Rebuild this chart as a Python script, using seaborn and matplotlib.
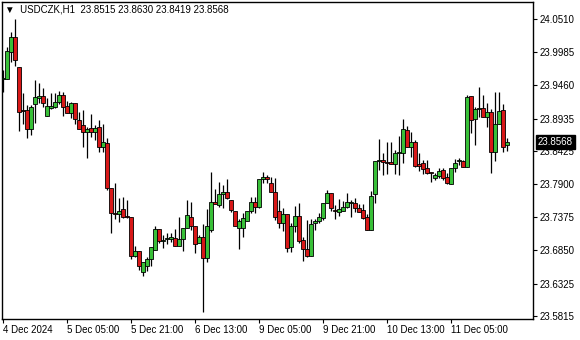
import numpy as np
import matplotlib
matplotlib.use("Agg")
import matplotlib.pyplot as plt
import matplotlib.transforms as mtransforms
import seaborn as sns

# ---- data (USDCZK H1 candles) ----
opens = [23.9561, 23.9561, 23.9988, 24.0225, 23.9751, 23.9071, 23.9071, 23.8771, 23.9166, 23.9261,
         23.9292, 23.8976, 23.9103, 23.9118, 23.9197, 23.9308, 23.9134, 23.9024, 23.9182, 23.8913,
         23.8834, 23.8723, 23.8787, 23.8723, 23.8802, 23.8486, 23.8549, 23.7838, 23.7443, 23.7427,
         23.7506, 23.7395, 23.7380, 23.6763, 23.6842, 23.6510, 23.6604, 23.6715, 23.6858, 23.7190,
         23.7000, 23.7032, 23.7032, 23.7047, 23.6921, 23.7032, 23.7205, 23.7380, 23.7237, 23.6968,
         23.7063, 23.6731, 23.7174, 23.7616, 23.7569, 23.7743, 23.7775, 23.7648, 23.7474, 23.7205,
         23.7205, 23.7316, 23.7474, 23.7616, 23.7537, 23.7980, 23.8012, 23.7917, 23.7775, 23.7474,
         23.7284, 23.7427, 23.6905, 23.7237, 23.7395, 23.7016, 23.6873, 23.6763, 23.7284, 23.7316,
         23.7364, 23.7601, 23.7759, 23.7490, 23.7458, 23.7474, 23.7537, 23.7601, 23.7601, 23.7522,
         23.7490, 23.7380, 23.7174, 23.7743, 23.8265, 23.8280, 23.8249, 23.8249, 23.8217, 23.8391,
         23.8391, 23.8755, 23.8486, 23.8565, 23.8217, 23.8233, 23.8154, 23.8091, 23.7996, 23.8028,
         23.8122, 23.8012, 23.7901, 23.8154, 23.8265, 23.8265, 23.8170, 23.9292, 23.8929, 23.9087,
         23.9103, 23.8960, 23.9039, 23.8407, 23.8850, 23.9071, 23.8515]
highs = [23.9703, 24.0067, 24.0304, 24.0510, 23.9751, 23.9340, 23.9150, 23.9150, 23.9545, 23.9498,
         23.9419, 23.9261, 23.9340, 23.9340, 23.9371, 23.9356, 23.9213, 23.9197, 23.9182, 23.9039,
         23.9071, 23.8802, 23.9008, 23.8834, 23.8913, 23.8850, 23.8628, 23.7838, 23.7917, 23.7680,
         23.7695, 23.7648, 23.7380, 23.6921, 23.6842, 23.6668, 23.6747, 23.6905, 23.7237, 23.7190,
         23.7095, 23.7126, 23.7126, 23.7190, 23.7380, 23.7205, 23.7648, 23.7616, 23.7237, 23.7095,
         23.7269, 23.7506, 23.8091, 23.7822, 23.7933, 23.7885, 23.7980, 23.7648, 23.7474, 23.7348,
         23.7443, 23.7474, 23.7695, 23.7695, 23.7980, 23.8091, 23.8043, 23.8012, 23.7996, 23.7648,
         23.7522, 23.7427, 23.7284, 23.7553, 23.7601, 23.7063, 23.7332, 23.7348, 23.7348, 23.7443,
         23.7601, 23.7806, 23.7759, 23.7569, 23.7664, 23.7632, 23.7759, 23.7648, 23.7680, 23.7585,
         23.7585, 23.7427, 23.7790, 23.8265, 23.8612, 23.8391, 23.8565, 23.8565, 23.8439, 23.8660,
         23.8929, 23.8818, 23.8723, 23.8597, 23.8391, 23.8280, 23.8280, 23.8091, 23.8075, 23.8154,
         23.8154, 23.8075, 23.8154, 23.8296, 23.8312, 23.8280, 23.9308, 23.9292, 23.9118, 23.9435,
         23.9308, 23.9182, 23.9087, 23.9356, 23.9356, 23.9166, 23.8630]
lows = [23.9356, 23.9561, 23.9830, 23.9767, 23.8739, 23.8850, 23.8628, 23.8676, 23.8865, 23.9182,
        23.9118, 23.8976, 23.9087, 23.9103, 23.9166, 23.8976, 23.9024, 23.8944, 23.8850, 23.8771,
        23.8486, 23.8312, 23.8644, 23.8597, 23.8407, 23.8407, 23.7806, 23.7126, 23.7348, 23.7300,
        23.7364, 23.7364, 23.6715, 23.6747, 23.6541, 23.6447, 23.6525, 23.6604, 23.6858, 23.6968,
        23.6889, 23.6952, 23.6984, 23.6921, 23.6921, 23.6842, 23.7205, 23.7174, 23.6810, 23.6968,
        23.5877, 23.6668, 23.7142, 23.7585, 23.7537, 23.7522, 23.7664, 23.7458, 23.7237, 23.6873,
        23.7063, 23.7316, 23.7443, 23.7443, 23.7522, 23.7917, 23.7917, 23.7775, 23.7332, 23.7205,
        23.7158, 23.6826, 23.6826, 23.7142, 23.6968, 23.6684, 23.6747, 23.6763, 23.7174, 23.7284,
        23.7332, 23.7601, 23.7474, 23.7348, 23.7395, 23.7474, 23.7522, 23.7380, 23.7458, 23.7458,
        23.7348, 23.7174, 23.7174, 23.7601, 23.8122, 23.8043, 23.8059, 23.8217, 23.8059, 23.8043,
        23.8233, 23.8486, 23.8328, 23.8170, 23.8107, 23.8059, 23.8059, 23.7933, 23.7964, 23.7996,
        23.7964, 23.7901, 23.7901, 23.8091, 23.8201, 23.8170, 23.8170, 23.8707, 23.8518, 23.8960,
        23.8960, 23.8802, 23.8075, 23.8265, 23.8850, 23.8407, 23.8419]
closes = [23.9577, 24.0004, 24.0225, 23.9861, 23.9039, 23.9055, 23.8771, 23.9118, 23.9276, 23.9292,
          23.9182, 23.9134, 23.9134, 23.9197, 23.9308, 23.9118, 23.9024, 23.9182, 23.8929, 23.8771,
          23.8723, 23.8771, 23.8723, 23.8787, 23.8486, 23.8565, 23.7838, 23.7443, 23.7427, 23.7474,
          23.7380, 23.7380, 23.6763, 23.6842, 23.6604, 23.6668, 23.6715, 23.6905, 23.7190, 23.7000,
          23.7016, 23.7047, 23.7063, 23.6921, 23.7032, 23.7205, 23.7411, 23.7237, 23.6952, 23.7063,
          23.6731, 23.7237, 23.7616, 23.7585, 23.7743, 23.7775, 23.7680, 23.7490, 23.7237, 23.7316,
          23.7364, 23.7474, 23.7616, 23.7537, 23.7980, 23.8012, 23.7980, 23.7775, 23.7380, 23.7284,
          23.7427, 23.6889, 23.7237, 23.7395, 23.7000, 23.6873, 23.6763, 23.7269, 23.7316, 23.7380,
          23.7601, 23.7759, 23.7522, 23.7474, 23.7506, 23.7537, 23.7616, 23.7616, 23.7522, 23.7458,
          23.7364, 23.7174, 23.7711, 23.8265, 23.8280, 23.8249, 23.8233, 23.8217, 23.8391, 23.8407,
          23.8771, 23.8486, 23.8565, 23.8186, 23.8186, 23.8138, 23.8075, 23.8075, 23.8043, 23.8107,
          23.7996, 23.7917, 23.8154, 23.8233, 23.8280, 23.8170, 23.9276, 23.8913, 23.9087, 23.9103,
          23.8960, 23.9039, 23.8407, 23.8850, 23.9055, 23.8486, 23.8568]

price_ticks = [24.0510, 23.9985, 23.9460, 23.8935, 23.8425, 23.7900, 23.7375, 23.6850, 23.6325, 23.5815]
time_tick_bars = [0, 16, 32, 48, 64, 80, 96, 112]
time_tick_labels = ["4 Dec 2024", "5 Dec 05:00", "5 Dec 21:00", "6 Dec 13:00",
                    "9 Dec 05:00", "9 Dec 21:00", "10 Dec 13:00", "11 Dec 05:00"]
symbol = "USDCZK,H1"

# ---- style ----
sns.set_theme(style="white")
plt.rcParams['font.family'] = ['Liberation Sans', 'DejaVu Sans']

o = np.array(opens); h = np.array(highs); l = np.array(lows); c = np.array(closes)
idx = np.arange(len(o))
up = c >= o
GREEN = '#38c038'
RED = '#d81818'

fig = plt.figure(figsize=(5.8, 3.4), dpi=100)
fig.patch.set_facecolor('white')
ax = fig.add_axes([2 / 580, 21 / 340, 531 / 580, 317 / 340])
ax.set_facecolor('white')

# wicks
ax.vlines(idx, l, h, color='black', linewidth=0.9, zorder=2)
# bodies
bottom = np.minimum(o, c)
height = np.maximum(np.abs(c - o), 1e-5)
ax.bar(idx, height, bottom=bottom, width=0.78,
       color=np.where(up, GREEN, RED), edgecolor='black', linewidth=0.6, zorder=3)

ax.set_xlim(-0.25, 132.5)
ax.set_ylim(23.5767, 24.0778)

for s in ax.spines.values():
    s.set_visible(True)
    s.set_color('black')
    s.set_linewidth(1.0)

ax.yaxis.tick_right()
ax.set_yticks(price_ticks)
ax.set_yticklabels([f"{v:.4f}" for v in price_ticks])
ax.tick_params(axis='y', direction='out', length=3, width=0.8, pad=2,
               labelsize=7, colors='black', right=True, left=False)

ax.set_xticks(time_tick_bars)
ax.set_xticklabels(time_tick_labels, ha='left')
ax.tick_params(axis='x', direction='out', length=3, width=0.8, pad=1.5,
               labelsize=7, colors='black', bottom=True)
ax.grid(False)

# header text
hdr = f"\u25BC  {symbol}  {opens[-1]:.4f} {highs[-1]:.4f} {lows[-1]:.4f} {closes[-1]:.4f}"
ax.text(3 / 531, 1 - 8 / 317, hdr, transform=ax.transAxes, ha='left', va='center',
        fontsize=7, color='black')

# current price box
trans = mtransforms.blended_transform_factory(ax.transAxes, ax.transData)
ax.text(1 + 5 / 531, closes[-1], f"{closes[-1]:.4f}", transform=trans, ha='left', va='center',
        fontsize=7, color='white', zorder=5, clip_on=False,
        bbox=dict(boxstyle='square,pad=0.2', facecolor='black', edgecolor='black'))

fig.savefig('out.png', dpi=100, facecolor='white')
